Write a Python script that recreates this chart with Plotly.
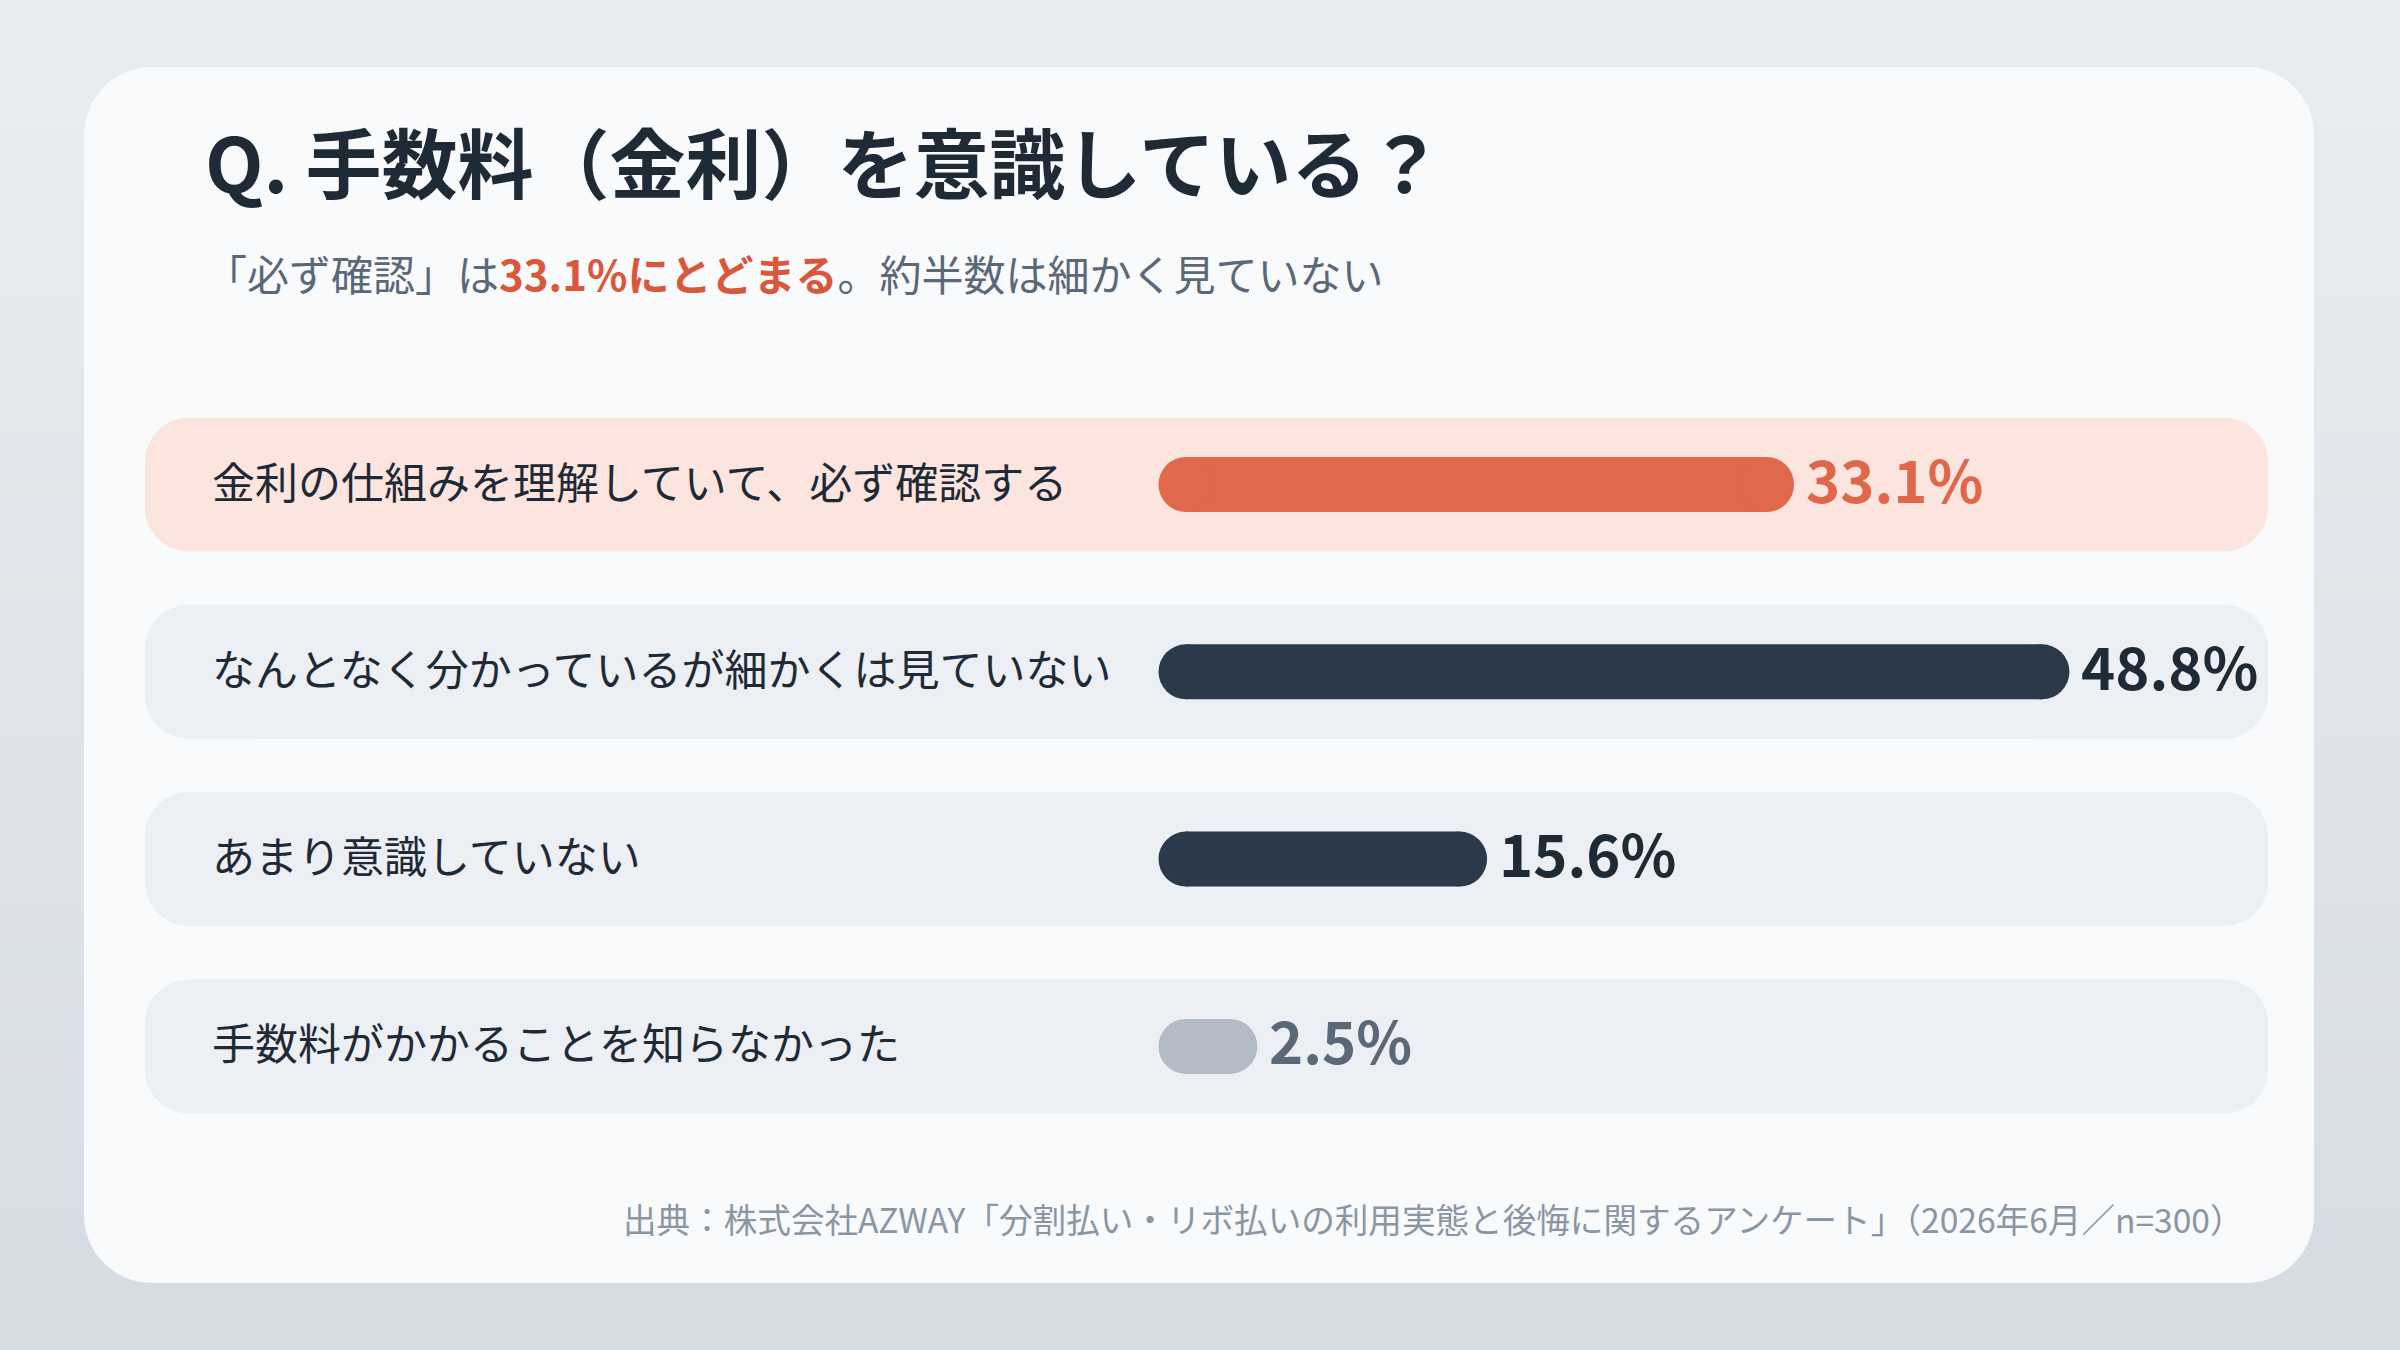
import plotly.graph_objects as go

# ---- data ----
CATEGORIES = [
    "金利の仕組みを理解していて、必ず確認する",
    "なんとなく分かっているが細かくは見ていない",
    "あまり意識していない",
    "手数料がかかることを知らなかった",
]
VALUES = [33.1, 48.8, 15.6, 2.5]
VALUE_LABELS = ["33.1%", "48.8%", "15.6%", "2.5%"]

TITLE = "Q. 手数料（金利）を意識している？"
SUBTITLE_PRE = "「必ず確認」は"
SUBTITLE_HL = "33.1%にとどまる"
SUBTITLE_POST = "。約半数は細かく見ていない"
SOURCE = "出典：株式会社AZWAY「分割払い・リボ払いの利用実態と後悔に関するアンケート」（2026年6月／n=300）"

# ---- style ----
BAR_COLORS = ["#e0684b", "#2b3a4a", "#2b3a4a", "#b3bcc6"]
VALUE_COLORS = ["#e0674a", "#1f2a37", "#1f2a37", "#5a6878"]
ROW_COLORS = ["#fbe5de", "#eceff3", "#eceff3", "#eceff3"]
FONT = "Noto Sans CJK JP"

W, H = 2400, 1350
BAR_W = 55            # bar thickness in px
X0_PX = 1186          # pixel where 0% sits
PX_PER_PCT = 17.54
X_MAX = 60
ROW0_Y = 484.5        # pixel centre of first row (from top)
ROW_STEP = 187.3
ROW_HALF = 67
ROW_X0, ROW_X1 = 145, 2268


def px(x):
    return x / W


def py(y):
    return 1 - y / H


def rounded_rect(x0, y0, x1, y1, r):
    rx, ry = r / W, r / H
    k = 0.5523
    X0, X1, Y0, Y1 = px(x0), px(x1), py(y0), py(y1)
    return (
        f"M {X0+rx},{Y0} L {X1-rx},{Y0} "
        f"C {X1-rx+k*rx},{Y0} {X1},{Y0-ry+k*ry} {X1},{Y0-ry} "
        f"L {X1},{Y1+ry} "
        f"C {X1},{Y1+ry-k*ry} {X1-rx+k*rx},{Y1} {X1-rx},{Y1} "
        f"L {X0+rx},{Y1} "
        f"C {X0+rx-k*rx},{Y1} {X0},{Y1+ry-k*ry} {X0},{Y1+ry} "
        f"L {X0},{Y0-ry} "
        f"C {X0},{Y0-ry+k*ry} {X0+rx-k*rx},{Y0} {X0+rx},{Y0} Z"
    )


def mix(c1, c2, t):
    a = [int(c1[i:i + 2], 16) for i in (1, 3, 5)]
    b = [int(c2[i:i + 2], 16) for i in (1, 3, 5)]
    return "#" + "".join(f"{round(a[j] + (b[j] - a[j]) * t):02x}" for j in range(3))


fig = go.Figure()

# capsule bars: thick line + round end markers
for i, v in enumerate(VALUES):
    fig.add_trace(go.Scatter(
        x=[0, v], y=[i, i],
        mode="lines+markers",
        line=dict(color=BAR_COLORS[i], width=BAR_W),
        marker=dict(color=BAR_COLORS[i], size=BAR_W, line=dict(width=0)),
        cliponaxis=False,
        hoverinfo="skip",
        showlegend=False,
    ))

shapes = []
# background gradient
n_strips = 40
for s in range(n_strips):
    shapes.append(dict(
        type="rect", xref="paper", yref="paper",
        x0=0, x1=1, y0=1 - (s + 1) / n_strips, y1=1 - s / n_strips + 0.002,
        fillcolor=mix("#e9edf1", "#d6dce4", s / (n_strips - 1)),
        line=dict(width=0), layer="below",
    ))
# card
shapes.append(dict(
    type="path", xref="paper", yref="paper",
    path=rounded_rect(84, 67, 2314, 1283, 68),
    fillcolor="#f8fafc", line=dict(width=0), layer="below",
))
# row backgrounds
for i in range(len(CATEGORIES)):
    cy = ROW0_Y + i * ROW_STEP
    shapes.append(dict(
        type="path", xref="paper", yref="paper",
        path=rounded_rect(ROW_X0, cy - ROW_HALF, ROW_X1, cy + ROW_HALF, 44),
        fillcolor=ROW_COLORS[i], line=dict(width=0), layer="below",
    ))

annotations = [
    dict(text=TITLE, x=px(203), y=py(160), xref="paper", yref="paper",
         xanchor="left", yanchor="middle", showarrow=False,
         font=dict(family=FONT, size=76, color="#1f2a37", weight=700)),
    dict(text=(f"{SUBTITLE_PRE}<span style='color:#d9573a;font-weight:bold'>"
               f"{SUBTITLE_HL}</span>{SUBTITLE_POST}"),
         x=px(203), y=py(272), xref="paper", yref="paper",
         xanchor="left", yanchor="middle", showarrow=False,
         font=dict(family=FONT, size=42, color="#5b6878")),
    dict(text=SOURCE, x=px(2246), y=py(1218), xref="paper", yref="paper",
         xanchor="right", yanchor="middle", showarrow=False,
         font=dict(family=FONT, size=33.6, color="#8a96a3")),
]

for i, (cat, v, lab) in enumerate(zip(CATEGORIES, VALUES, VALUE_LABELS)):
    annotations.append(dict(
        text=cat, x=px(210), y=i, xref="paper", yref="y",
        xanchor="left", yanchor="middle", showarrow=False, yshift=5,
        font=dict(family=FONT, size=43, color="#1f2a37"),
    ))
    annotations.append(dict(
        text=lab, x=v, y=i, xref="x", yref="y",
        xanchor="left", yanchor="middle", showarrow=False,
        xshift=BAR_W / 2 + 10, yshift=7,
        font=dict(family=FONT, size=58, color=VALUE_COLORS[i], weight=700),
    ))

y_top = ROW0_Y - ROW_STEP / 2
y_bot = ROW0_Y + (len(CATEGORIES) - 0.5) * ROW_STEP

fig.update_layout(
    width=W, height=H,
    margin=dict(l=0, r=0, t=0, b=0),
    paper_bgcolor="#e2e7ec",
    plot_bgcolor="rgba(0,0,0,0)",
    xaxis=dict(range=[0, X_MAX], domain=[px(X0_PX), px(X0_PX + X_MAX * PX_PER_PCT)],
               visible=False, fixedrange=True),
    yaxis=dict(range=[len(CATEGORIES) - 0.5, -0.5], domain=[py(y_bot), py(y_top)],
               visible=False, fixedrange=True),
    shapes=shapes,
    annotations=annotations,
    hovermode=False,
)

fig.write_html(
    "out.html",
    config={"displayModeBar": False},
    post_script="document.body.style.margin='0';document.body.style.overflow='hidden';",
)
